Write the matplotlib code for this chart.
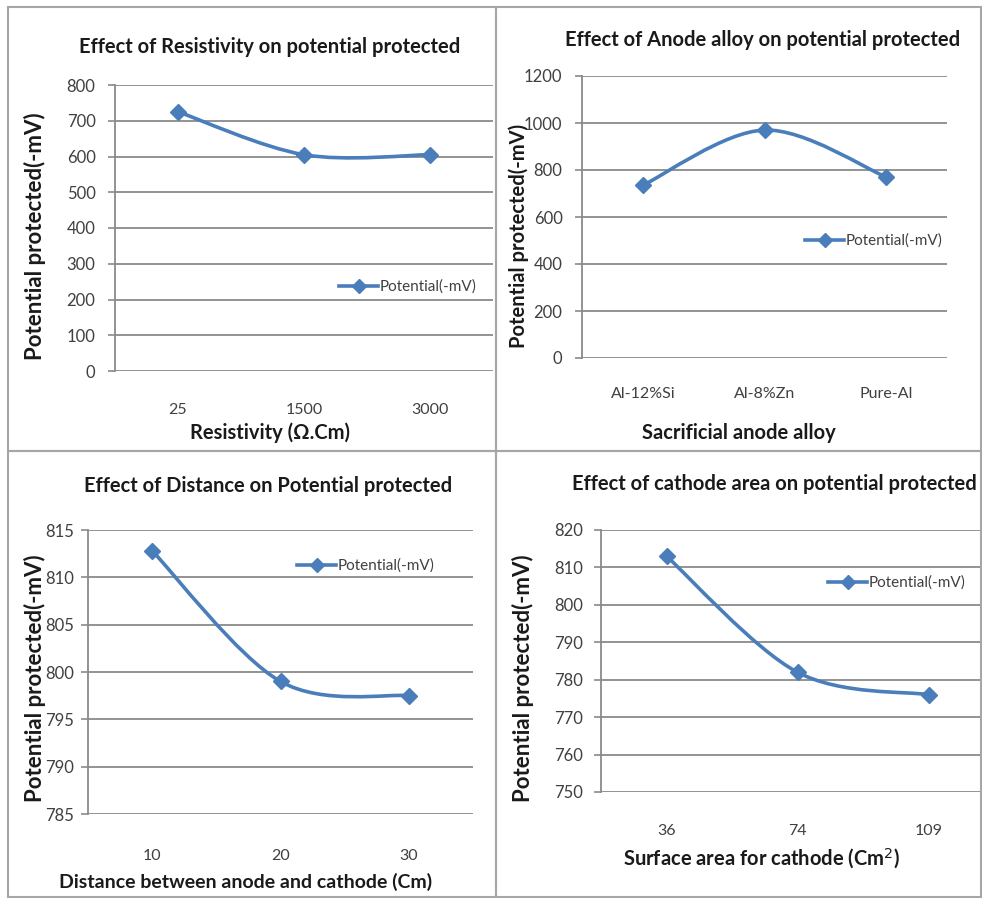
import matplotlib
matplotlib.use("Agg")
import matplotlib.pyplot as plt
from matplotlib.path import Path
from matplotlib.patches import PathPatch
from matplotlib.lines import Line2D

plt.rcParams['font.family'] = ['Lato', 'DejaVu Sans']

W, H = 982, 898
BLUE = "#4a7ebb"
GRID = "#8a8a8a"
BOX = "#a6a6a6"
TXT = "#1a1a1a"
TICK = "#404040"

# ---- data ----
res_labels = ["25", "1500", "3000"]
res_vals = [725, 605, 605]

alloy_labels = ["Al-12%Si", "Al-8%Zn", "Pure-Al"]
alloy_vals = [735, 970, 770]

dist_labels = ["10", "20", "30"]
dist_vals = [812.8, 799.0, 797.5]

area_labels = ["36", "74", "109"]
area_vals = [813, 782, 776]


def px_ax(l, t, r, b):
    # pixel box -> figure fraction rect
    return [l / W, 1 - b / H, (r - l) / W, (b - t) / H]


def ftext(x, y, s, **kw):
    fig.text(x / W, 1 - y / H, s, **kw)


def smooth(ax, ys):
    # Excel-like smoothed line: cubic bezier segments through the points
    pts = [(float(i), float(v)) for i, v in enumerate(ys)]
    n = len(pts)
    verts = [pts[0]]; codes = [Path.MOVETO]
    for i in range(n - 1):
        p0 = pts[i - 1] if i > 0 else pts[i]
        p1, p2 = pts[i], pts[i + 1]
        p3 = pts[i + 2] if i + 2 < n else p2
        c1 = (p1[0] + (p2[0] - p0[0]) / 6, p1[1] + (p2[1] - p0[1]) / 6)
        c2 = (p2[0] - (p3[0] - p1[0]) / 6, p2[1] - (p3[1] - p1[1]) / 6)
        verts += [c1, c2, p2]; codes += [Path.CURVE4] * 3
    ax.add_patch(PathPatch(Path(verts, codes), facecolor="none", edgecolor=BLUE,
                           lw=2.6, capstyle="round", joinstyle="round", zorder=3))
    ax.plot(range(n), ys, ls="none", marker="D", ms=8.5, color=BLUE, zorder=4)


def panel(rect, labels, vals, ylim, step, ypad, xpad, leg_xy):
    ax = fig.add_axes(px_ax(*rect))
    ax.set_xlim(-0.5, len(labels) - 0.5)
    ax.set_ylim(*ylim)
    ticks = []
    v = ylim[0]
    while v <= ylim[1] + 1e-9:
        ticks.append(v); v += step
    ax.set_yticks(ticks)
    ax.set_yticklabels([f"{t:g}" for t in ticks], fontsize=12, color=TICK)
    ax.set_xticks(range(len(labels)))
    ax.set_xticklabels(labels, fontsize=11.5, color=TICK)
    ax.tick_params(axis="x", length=0, pad=xpad)
    ax.tick_params(axis="y", length=5, width=1.2, color=GRID, pad=ypad)
    for s in ["top", "right", "bottom"]:
        ax.spines[s].set_visible(False)
    ax.spines["left"].set_color(GRID)
    ax.spines["left"].set_linewidth(1.3)
    ax.grid(axis="y", color=GRID, lw=1.3)
    ax.set_axisbelow(True)
    ax.patch.set_alpha(0)
    smooth(ax, vals)
    h = Line2D([], [], color=BLUE, lw=2.6, marker="D", ms=7)
    ax.legend([h], ["Potential(-mV)"], loc="center left", frameon=False,
              bbox_to_anchor=(leg_xy[0] / W, 1 - leg_xy[1] / H),
              bbox_transform=fig.transFigure, handlelength=2.6,
              handletextpad=0.1, borderpad=0, fontsize=11, labelcolor=TICK)
    return ax


fig = plt.figure(figsize=(W / 100, H / 100), dpi=100)

# panel borders
for (l, t, r, b) in [(8, 7, 496, 451), (496, 7, 981, 451), (8, 451, 496, 897), (496, 451, 981, 897)]:
    fig.add_artist(plt.Rectangle((l / W, 1 - b / H), (r - l) / W, (b - t) / H,
                                 transform=fig.transFigure, fill=False,
                                 edgecolor=BOX, lw=1.5))

panel((115, 85, 493, 371), res_labels, res_vals, (0, 800), 100, 9, 23, (331, 287))
panel((582, 76, 947, 358), alloy_labels, alloy_vals, (0, 1200), 200, 9, 21, (797, 241))
panel((88, 530, 473, 814), dist_labels, dist_vals, (785, 815), 5, 5, 25, (289, 566))
panel((601, 530, 994, 792), area_labels, area_vals, (750, 820), 10, 8, 23, (820, 583))

tkw = dict(fontweight="bold", color=TXT, va="center")
ftext(270, 47, "Effect of Resistivity on potential protected", ha="center", fontsize=14.5, **tkw)
ftext(763, 40, "Effect of Anode alloy on potential protected", ha="center", fontsize=14.5, **tkw)
ftext(268, 486, "Effect of Distance on Potential protected", ha="center", fontsize=14.5, **tkw)
ftext(572, 484, "Effect of cathode area on potential protected", ha="left", fontsize=14.5, **tkw)

xkw = dict(fontweight="bold", color=TXT, va="center", ha="center")
ftext(270, 433, "Resistivity (\u03a9.Cm)", fontsize=14.5, **xkw)
ftext(739, 433, "Sacrificial anode alloy", fontsize=14.5, **xkw)
ftext(246, 882, "Distance between anode and cathode (Cm)", fontsize=14, **xkw)
ftext(761, 859, "Surface area for cathode (Cm$^2$)", fontsize=14.5, **xkw)

ykw = dict(fontweight="bold", color=TXT, va="center", ha="center", rotation=90)
ftext(35, 236, "Potential protected(-mV)", fontsize=16, **ykw)
ftext(519, 236, "Potential protected(-mV)", fontsize=14.5, **ykw)
ftext(35, 678, "Potential protected(-mV)", fontsize=16, **ykw)
ftext(523, 678, "Potential protected(-mV)", fontsize=16, **ykw)

fig.savefig("out.png", dpi=100)
